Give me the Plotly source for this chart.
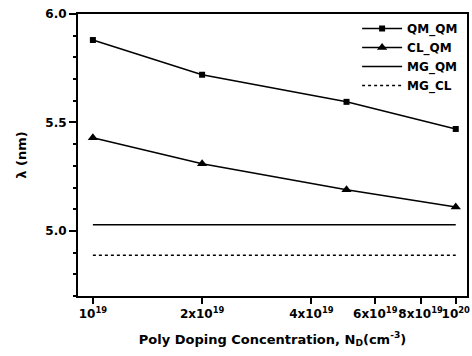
import plotly.graph_objects as go

doping = [1e19, 2e19, 5e19, 1e20]
qm_qm = [5.88, 5.72, 5.595, 5.47]
cl_qm = [5.43, 5.31, 5.19, 5.11]
mg_range = [1e19, 1e20]
mg_qm = [5.028, 5.028]
mg_cl = [4.888, 4.888]

xtick_vals = [1e19, 2e19, 4e19, 6e19, 8e19, 1e20]
xtick_text = ["<b>10<sup>19</sup></b>", "<b>2x10<sup>19</sup></b>", "<b>4x10<sup>19</sup></b>",
              "<b>6x10<sup>19</sup></b>", "<b>8x10<sup>19</sup></b>", "<b>10<sup>20</sup></b>"]
ytick_vals = [5.0, 5.5, 6.0]
ytick_text = ["<b>5.0</b>", "<b>5.5</b>", "<b>6.0</b>"]

FONT = "DejaVu Sans"

fig = go.Figure()
fig.add_trace(go.Scatter(x=doping, y=qm_qm, name="<b>QM_QM</b>", mode="lines+markers",
                         line=dict(color="black", width=1.5),
                         marker=dict(symbol="square", size=6, color="black")))
fig.add_trace(go.Scatter(x=doping, y=cl_qm, name="<b>CL_QM</b>", mode="lines+markers",
                         line=dict(color="black", width=1.5),
                         marker=dict(symbol="triangle-up", size=9, color="black")))
fig.add_trace(go.Scatter(x=mg_range, y=mg_qm, name="<b>MG_QM</b>", mode="lines",
                         line=dict(color="black", width=1.5)))
fig.add_trace(go.Scatter(x=mg_range, y=mg_cl, name="<b>MG_CL</b>", mode="lines",
                         line=dict(color="black", width=1.5, dash="dot")))

fig.update_layout(
    width=472, height=356,
    margin=dict(l=78, r=5, t=14, b=60, autoexpand=False),
    paper_bgcolor="white", plot_bgcolor="white",
    font=dict(family=FONT, size=12, color="black"),
    showlegend=True,
    legend=dict(x=0.99, y=1.0, xanchor="right", yanchor="top",
                bgcolor="rgba(0,0,0,0)", borderwidth=0,
                font=dict(family=FONT, size=12, color="black"),
                tracegroupgap=0, itemwidth=40),
)
fig.update_xaxes(
    type="log", range=[18.959, 20.031], automargin=False,
    tickvals=xtick_vals, ticktext=xtick_text, tickangle=0,
    ticks="outside", ticklen=6, tickwidth=1.5, tickcolor="black",
    showline=True, linecolor="black", linewidth=2, mirror=True,
    showgrid=False, zeroline=False,
    tickfont=dict(family=FONT, size=12, color="black"),
    title=dict(text="<b>Poly Doping Concentration, N<sub>D</sub>(cm<sup>-3</sup>)</b>",
               font=dict(family=FONT, size=13, color="black"), standoff=14),
)
fig.update_yaxes(
    range=[4.7, 6.0], automargin=False,
    tickvals=ytick_vals, ticktext=ytick_text,
    ticks="outside", ticklen=7, tickwidth=1.5, tickcolor="black",
    minor=dict(dtick=0.1, ticks="outside", ticklen=3, tickwidth=1.5, tickcolor="black", showgrid=False),
    showline=True, linecolor="black", linewidth=2, mirror=True,
    showgrid=False, zeroline=False,
    tickfont=dict(family=FONT, size=12, color="black"),
    title=dict(text="<b>λ (nm)</b>", font=dict(family=FONT, size=13, color="black"), standoff=16),
)

fig.write_html("out.html", post_script="document.body.style.margin='0';",
               config={"displayModeBar": False})
